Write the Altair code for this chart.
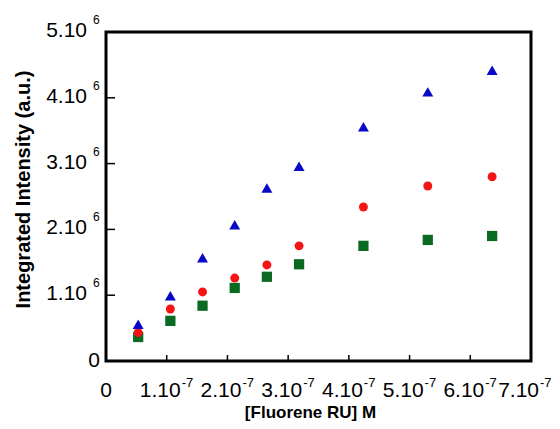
import altair as alt
import pandas as pd

# concentration of fluorene repeat units (M)
conc = [0.53e-7, 1.06e-7, 1.59e-7, 2.12e-7, 2.65e-7, 3.18e-7, 4.24e-7, 5.30e-7, 6.36e-7]
blue_vals = [0.56e6, 0.99e6, 1.57e6, 2.07e6, 2.63e6, 2.96e6, 3.56e6, 4.09e6, 4.42e6]
red_vals = [0.43e6, 0.79e6, 1.05e6, 1.26e6, 1.46e6, 1.75e6, 2.34e6, 2.66e6, 2.80e6]
green_vals = [0.365e6, 0.61e6, 0.84e6, 1.11e6, 1.28e6, 1.47e6, 1.75e6, 1.84e6, 1.90e6]

# tick labels (mantissa + superscript exponent)
x_label_vals = [1e-7, 2e-7, 3e-7, 4e-7, 5e-7, 6e-7, 7e-7]
x_label_base = ["1.10", "2.10", "3.10", "4.10", "5.10", "6.10", "7.10"]
x_label_exp = ["-7", "-7", "-7", "-7", "-7", "-7", "-7"]
y_label_vals = [1e6, 2e6, 3e6, 4e6, 5e6]
y_label_base = ["1.10", "2.10", "3.10", "4.10", "5.10"]
y_label_exp = ["6", "6", "6", "6", "6"]
zero_label = ["0"]

x_ticks = [1e-7, 2e-7, 3e-7, 4e-7, 5e-7, 6e-7]
y_ticks = [1e6, 2e6, 3e6, 4e6]

W, H = 425, 329
FONT = "Liberation Sans"
LBL = 21
SUP_X = 13
SUP_Y = 12

xscale = alt.Scale(domain=[0, 7e-7], nice=False, zero=False)
yscale = alt.Scale(domain=[0, 5e6], nice=False, zero=False)

x_axis = alt.Axis(
    labels=False, ticks=False, domain=False, grid=False,
    title="[Fluorene RU] M", titleX=204, titleY=51, titleBaseline="middle",
    titleAlign="center", titleFont=FONT, titleFontSize=17,
    titleFontWeight="bold", titleColor="black",
)
y_axis = alt.Axis(
    labels=False, ticks=False, domain=False, grid=False,
    title="Integrated Intensity (a.u.)", titleX=-83, titleY=157,
    titleBaseline="middle", titleAlign="center", titleFont=FONT,
    titleFontSize=20, titleFontWeight="bold", titleColor="black",
)

green_df = pd.DataFrame({"x": conc, "y": green_vals})
red_df = pd.DataFrame({"x": conc, "y": red_vals})
blue_df = pd.DataFrame({"x": conc, "y": blue_vals})
xt_df = pd.DataFrame({"x": x_ticks})
yt_df = pd.DataFrame({"y": y_ticks})
xl_df = pd.DataFrame({"x": x_label_vals, "base": x_label_base, "exp": x_label_exp})
yl_df = pd.DataFrame({"y": y_label_vals, "base": y_label_base, "exp": y_label_exp})
zx_df = pd.DataFrame({"x": [0.0], "t": zero_label})
zy_df = pd.DataFrame({"y": [0.0], "t": zero_label})

X = lambda: alt.X("x:Q", scale=xscale)
Y = lambda: alt.Y("y:Q", scale=yscale)

green = alt.Chart(green_df).mark_point(
    shape="square", filled=True, color="#0b6a22", size=105, opacity=1
).encode(
    x=alt.X("x:Q", scale=xscale, axis=x_axis),
    y=alt.Y("y:Q", scale=yscale, axis=y_axis),
)
red = alt.Chart(red_df).mark_point(
    shape="circle", filled=True, color="#f51414", size=80, opacity=1
).encode(x=X(), y=Y())
blue = alt.Chart(blue_df).mark_point(
    shape="triangle-up", filled=True, color="#0808c8", size=120, opacity=1
).encode(x=X(), y=Y())

xticks = alt.Chart(xt_df).mark_rule(color="black", strokeWidth=1.5).encode(
    x=X(), y=alt.value(H), y2=alt.value(H - 6),
)
yticks = alt.Chart(yt_df).mark_rule(color="black", strokeWidth=1.5).encode(
    y=Y(), x=alt.value(0), x2=alt.value(9),
)

txt = dict(font=FONT, color="black")
inner = "datum.x < 6.5e-7"
last = "datum.x > 6.5e-7"

# x tick labels (last one nudged left so it stays on the page)
x_base = alt.Chart(xl_df).transform_filter(inner).mark_text(
    align="right", baseline="alphabetic", fontSize=LBL, dx=14, **txt
).encode(x=X(), y=alt.value(H + 36), text="base:N")
x_exp = alt.Chart(xl_df).transform_filter(inner).mark_text(
    align="left", baseline="alphabetic", fontSize=SUP_X, dx=15, **txt
).encode(x=X(), y=alt.value(H + 26), text="exp:N")
x_base_l = alt.Chart(xl_df).transform_filter(last).mark_text(
    align="right", baseline="alphabetic", fontSize=LBL, dx=8, **txt
).encode(x=X(), y=alt.value(H + 36), text="base:N")
x_exp_l = alt.Chart(xl_df).transform_filter(last).mark_text(
    align="left", baseline="alphabetic", fontSize=SUP_X, dx=9, **txt
).encode(x=X(), y=alt.value(H + 26), text="exp:N")
x_zero = alt.Chart(zx_df).mark_text(
    align="center", baseline="alphabetic", fontSize=LBL, **txt
).encode(x=X(), y=alt.value(H + 36), text="t:N")

# y tick labels
y_base = alt.Chart(yl_df).mark_text(
    align="right", baseline="middle", fontSize=LBL, dy=-1, **txt
).encode(y=Y(), x=alt.value(-19), text="base:N")
y_exp = alt.Chart(yl_df).mark_text(
    align="left", baseline="middle", fontSize=SUP_Y, dy=-12, **txt
).encode(y=Y(), x=alt.value(-13), text="exp:N")
y_zero = alt.Chart(zy_df).mark_text(
    align="right", baseline="middle", fontSize=LBL, **txt
).encode(y=Y(), x=alt.value(-6), text="t:N")

chart = alt.layer(
    green, red, blue, xticks, yticks,
    x_base, x_exp, x_base_l, x_exp_l, x_zero, y_base, y_exp, y_zero
).properties(
    width=W, height=H,
    autosize=alt.AutoSizeParams(type="none"),
    padding={"left": 98, "top": 24, "right": 20, "bottom": 60},
    background="white",
).configure_view(
    stroke="black", strokeWidth=3, fill="white"
)

chart.save("out.html", embed_options={"renderer": "svg", "actions": False})
